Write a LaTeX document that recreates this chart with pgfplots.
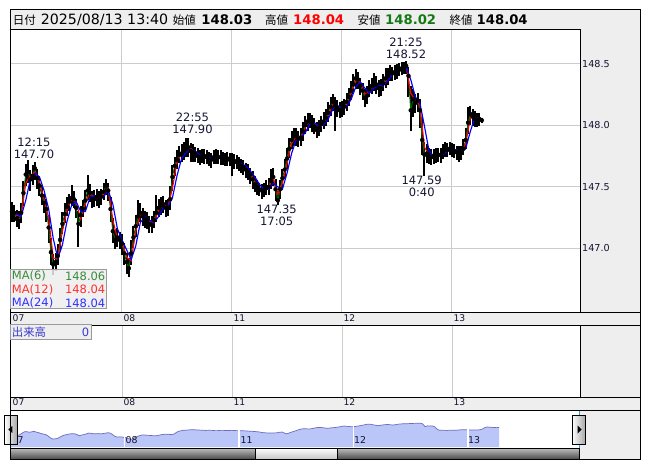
\documentclass[border=0pt]{standalone}
\usepackage{pgfplots}
\pgfplotsset{compat=1.18}
\usepackage{pgfplotstable}
\usepackage{fontspec}
\setmainfont{DejaVu Sans}
\newfontfamily\jp{Noto Sans CJK JP}
\definecolor{panel}{HTML}{EEEEEE}
\definecolor{gridc}{HTML}{CCCCCC}
\definecolor{annot}{HTML}{141432}
\definecolor{ma6}{HTML}{006400}
\definecolor{ma6t}{HTML}{3A8A3A}
\definecolor{ma12t}{HTML}{FF3030}
\definecolor{ma24t}{HTML}{3030FF}
\definecolor{navfill}{HTML}{BAC6F7}
\definecolor{navline}{HTML}{6C6CC0}
\definecolor{cyanl}{HTML}{2AA0D0}
\definecolor{hdrgreen}{HTML}{137A13}
\definecolor{volblue}{HTML}{3A3AD0}
\definecolor{boxline}{HTML}{9A9A9A}

% 30-minute candles: t = hours since 07:00 on 08/07, close, range above, range below
\pgfplotstableread{
t c ep em
0.0 147.30 0.075 0.085
0.5 147.29 0.065 0.075
1.0 147.24 0.075 0.065
1.5 147.22 0.085 0.065
2.0 147.29 0.075 0.085
2.5 147.45 0.095 0.105
3.0 147.60 0.085 0.095
3.5 147.62 0.095 0.085
4.0 147.56 0.075 0.095
4.5 147.59 0.085 0.075
5.0 147.65 0.055 0.095
5.5 147.57 0.075 0.085
6.0 147.51 0.075 0.085
6.5 147.43 0.085 0.075
7.0 147.37 0.075 0.085
7.5 147.32 0.085 0.105
8.0 147.17 0.105 0.125
8.5 146.97 0.115 0.105
9.0 146.87 0.085 0.085
9.5 146.89 0.075 0.075
10.0 146.94 0.095 0.075
10.5 147.07 0.095 0.085
11.0 147.20 0.095 0.085
11.5 147.28 0.085 0.075
12.0 147.34 0.075 0.075
12.5 147.38 0.065 0.075
13.0 147.41 0.105 0.065
13.5 147.40 0.065 0.075
14.0 147.33 0.075 0.085
14.5 147.20 0.105 0.185
15.0 147.27 0.075 0.095
15.5 147.32 0.075 0.065
16.0 147.39 0.085 0.075
16.5 147.47 0.125 0.075
17.0 147.45 0.075 0.075
17.5 147.40 0.065 0.075
18.0 147.40 0.075 0.065
18.5 147.42 0.065 0.075
19.0 147.39 0.075 0.065
19.5 147.42 0.065 0.065
20.0 147.46 0.075 0.065
20.5 147.51 0.055 0.075
21.0 147.47 0.065 0.085
21.5 147.32 0.095 0.105
22.0 147.14 0.105 0.095
22.5 147.07 0.075 0.075
23.0 147.09 0.075 0.075
23.5 147.07 0.065 0.075
24.0 147.04 0.075 0.095
24.5 146.96 0.085 0.095
25.0 146.89 0.075 0.095
25.5 146.84 0.085 0.075
26.0 146.96 0.105 0.095
26.5 147.09 0.095 0.085
27.0 147.18 0.095 0.085
27.5 147.26 0.135 0.075
28.0 147.29 0.075 0.075
28.5 147.26 0.065 0.075
29.0 147.24 0.065 0.075
29.5 147.23 0.065 0.075
30.0 147.20 0.065 0.075
30.5 147.19 0.075 0.065
31.0 147.23 0.075 0.065
31.5 147.29 0.145 0.075
32.0 147.33 0.075 0.075
32.5 147.35 0.065 0.075
33.0 147.36 0.065 0.075
33.5 147.33 0.065 0.075
34.0 147.33 0.075 0.065
34.5 147.40 0.105 0.085
35.0 147.58 0.095 0.115
35.5 147.67 0.075 0.085
36.0 147.72 0.075 0.075
36.5 147.76 0.075 0.065
37.0 147.77 0.075 0.065
37.5 147.79 0.075 0.075
38.0 147.81 0.085 0.065
38.5 147.82 0.08 0.075
39.0 147.79 0.065 0.085
39.5 147.78 0.065 0.075
40.0 147.77 0.055 0.065
40.5 147.75 0.065 0.055
41.0 147.74 0.055 0.065
41.5 147.75 0.055 0.055
42.0 147.75 0.055 0.065
42.5 147.74 0.055 0.055
43.0 147.72 0.065 0.055
43.5 147.72 0.055 0.065
44.0 147.74 0.055 0.055
44.5 147.75 0.055 0.065
45.0 147.74 0.055 0.055
45.5 147.74 0.055 0.065
46.0 147.73 0.055 0.055
46.5 147.72 0.055 0.055
47.0 147.73 0.055 0.065
47.5 147.72 0.055 0.055
48.0 147.72 0.055 0.135
48.5 147.71 0.055 0.065
49.0 147.70 0.055 0.055
49.5 147.69 0.055 0.065
50.0 147.67 0.055 0.055
50.5 147.66 0.055 0.065
51.0 147.64 0.055 0.065
51.5 147.62 0.065 0.065
52.0 147.60 0.055 0.075
52.5 147.56 0.065 0.075
53.0 147.52 0.065 0.065
53.5 147.50 0.055 0.065
54.0 147.48 0.055 0.055
54.5 147.47 0.055 0.065
55.0 147.47 0.065 0.055
55.5 147.49 0.065 0.055
56.0 147.50 0.075 0.065
56.5 147.55 0.095 0.065
57.0 147.58 0.075 0.075
57.5 147.48 0.085 0.095
58.0 147.39 0.075 0.04
58.5 147.48 0.075 0.075
59.0 147.57 0.075 0.085
59.5 147.64 0.085 0.075
60.0 147.73 0.085 0.085
60.5 147.81 0.085 0.075
61.0 147.88 0.075 0.075
61.5 147.91 0.065 0.075
62.0 147.91 0.065 0.075
62.5 147.89 0.065 0.065
63.0 147.90 0.075 0.065
63.5 147.95 0.075 0.075
64.0 148.00 0.075 0.075
64.5 148.03 0.065 0.075
65.0 148.04 0.055 0.065
65.5 148.02 0.065 0.075
66.0 147.99 0.065 0.065
66.5 147.96 0.065 0.065
67.0 147.98 0.065 0.065
67.5 148.01 0.065 0.065
68.0 148.03 0.075 0.065
68.5 148.06 0.075 0.065
69.0 148.10 0.085 0.075
69.5 148.15 0.075 0.075
70.0 148.19 0.065 0.075
70.5 148.16 0.065 0.21
71.0 148.14 0.065 0.075
71.5 148.12 0.065 0.065
72.0 148.13 0.065 0.065
72.5 148.15 0.065 0.065
73.0 148.19 0.075 0.075
73.5 148.23 0.075 0.075
74.0 148.28 0.075 0.075
74.5 148.33 0.085 0.075
75.0 148.38 0.075 0.085
75.5 148.37 0.065 0.075
76.0 148.32 0.065 0.075
76.5 148.28 0.065 0.075
77.0 148.22 0.075 0.075
77.5 148.24 0.075 0.065
78.0 148.29 0.075 0.065
78.5 148.32 0.065 0.065
79.0 148.34 0.085 0.065
79.5 148.33 0.065 0.075
80.0 148.30 0.065 0.075
80.5 148.30 0.075 0.065
81.0 148.34 0.075 0.065
81.5 148.38 0.085 0.075
82.0 148.40 0.065 0.075
82.5 148.42 0.065 0.065
83.0 148.42 0.055 0.065
83.5 148.43 0.055 0.065
84.0 148.44 0.055 0.065
84.5 148.45 0.055 0.055
85.0 148.46 0.055 0.055
85.5 148.47 0.045 0.055
86.0 148.48 0.04 0.065
86.5 148.40 0.075 0.175
87.0 148.12 0.195 0.165
87.5 148.21 0.085 0.145
88.0 148.18 0.075 0.085
88.5 148.20 0.065 0.095
89.0 148.12 0.095 0.145
89.5 147.88 0.175 0.125
90.0 147.76 0.105 0.17
90.5 147.77 0.075 0.075
91.0 147.75 0.065 0.065
91.5 147.74 0.065 0.065
92.0 147.75 0.055 0.065
92.5 147.75 0.065 0.055
93.0 147.76 0.055 0.055
93.5 147.76 0.055 0.065
94.0 147.78 0.065 0.055
94.5 147.80 0.065 0.055
95.0 147.80 0.055 0.055
95.5 147.81 0.055 0.055
96.0 147.80 0.055 0.055
96.5 147.79 0.055 0.055
97.0 147.78 0.055 0.065
97.5 147.78 0.055 0.075
98.0 147.78 0.055 0.065
98.5 147.81 0.075 0.055
99.0 147.88 0.095 0.075
99.5 148.02 0.13 0.095
100.0 148.09 0.065 0.085
100.5 148.07 0.065 0.075
101.0 148.05 0.065 0.065
101.5 148.04 0.055 0.055
102.0 148.05 0.045 0.055
102.5 148.04 0.02 0.02
}\candles

% moving averages MA(12), MA(24), hourly
\pgfplotstableread{
t m12 m24
0.0 147.30 147.30
1.0 147.27 147.28
2.0 147.26 147.26
3.0 147.53 147.39
4.0 147.59 147.56
5.0 147.62 147.61
6.0 147.54 147.58
7.0 147.40 147.47
8.0 147.25 147.32
9.0 146.92 147.08
10.0 146.92 146.92
11.0 147.14 147.03
12.0 147.31 147.22
13.0 147.40 147.35
14.0 147.37 147.38
15.0 147.24 147.30
16.0 147.36 147.30
17.0 147.46 147.41
18.0 147.40 147.43
19.0 147.41 147.40
20.0 147.44 147.42
21.0 147.49 147.47
22.0 147.23 147.36
23.0 147.08 147.16
24.0 147.06 147.07
25.0 146.93 146.99
26.0 146.90 146.91
27.0 147.14 147.02
28.0 147.28 147.21
29.0 147.25 147.26
30.0 147.22 147.23
31.0 147.21 147.21
32.0 147.31 147.26
33.0 147.36 147.33
34.0 147.33 147.34
35.0 147.49 147.41
36.0 147.70 147.59
37.0 147.77 147.73
38.0 147.80 147.78
39.0 147.81 147.80
40.0 147.78 147.79
41.0 147.75 147.76
42.0 147.75 147.75
43.0 147.73 147.74
44.0 147.73 147.73
45.0 147.75 147.74
46.0 147.74 147.74
47.0 147.73 147.73
48.0 147.72 147.72
49.0 147.71 147.71
50.0 147.68 147.69
51.0 147.65 147.67
52.0 147.61 147.63
53.0 147.54 147.58
54.0 147.49 147.52
55.0 147.47 147.48
56.0 147.50 147.48
57.0 147.57 147.53
58.0 147.44 147.50
59.0 147.53 147.48
60.0 147.69 147.61
61.0 147.85 147.77
62.0 147.91 147.88
63.0 147.90 147.90
64.0 147.98 147.94
65.0 148.04 148.01
66.0 148.01 148.02
67.0 147.97 147.99
68.0 148.02 148.00
69.0 148.08 148.05
70.0 148.17 148.13
71.0 148.15 148.16
72.0 148.13 148.14
73.0 148.17 148.15
74.0 148.26 148.21
75.0 148.36 148.31
76.0 148.35 148.35
77.0 148.25 148.30
78.0 148.27 148.26
79.0 148.33 148.30
80.0 148.32 148.32
81.0 148.32 148.32
82.0 148.39 148.36
83.0 148.42 148.41
84.0 148.44 148.43
85.0 148.46 148.45
86.0 148.48 148.47
87.0 148.26 148.37
88.0 148.20 148.23
89.0 148.16 148.18
90.0 147.82 147.99
91.0 147.76 147.79
92.0 147.75 147.75
93.0 147.76 147.75
94.0 147.77 147.76
95.0 147.80 147.79
96.0 147.81 147.80
97.0 147.79 147.80
98.0 147.78 147.78
99.0 147.85 147.81
100.0 148.06 147.95
101.0 148.06 148.06
102.0 148.05 148.05
102.5 148.04 148.04
}\mavg

\begin{document}
\begin{tikzpicture}
% ---------- backgrounds ----------
\begin{scope}[x=1pt,y=-1pt]
\useasboundingbox (0,0) rectangle (653,470);
\fill[white] (0,0) rectangle (653,470);
\fill[panel] (10.5,9.5) rectangle (640,29.5);
\fill[panel] (580,29.5) rectangle (640,459);
\fill[panel] (10.5,312.5) rectangle (640,325);
\fill[panel] (10.5,397) rectangle (640,410);
% volume grid
\foreach \gx in {122,232,342,452} \draw[gridc, line width=1pt] (\gx,325) -- (\gx,397);
\end{scope}

% ---------- main price panel ----------
\begin{axis}[
  at={(11pt,-29pt)}, anchor=north west,
  width=569pt, height=283pt, scale only axis,
  xmin=-0.218, xmax=123.93, ymin=146.485, ymax=148.78,
  axis line style={draw=none}, major tick length=0pt,
  xtick={24,48,72,96}, xticklabels={},
  ytick={147,147.5,148,148.5},
  yticklabel pos=right,
  yticklabel style={anchor=west, inner sep=0pt, xshift=2pt,
    font=\fontsize{9.6}{11}\selectfont, text=annot,
    /pgf/number format/.cd, fixed, fixed zerofill, precision=1, assume math mode=true},
  grid=major, major grid style={draw=gridc, line width=1pt},
]
\addplot[only marks, mark=none, forget plot,
  error bars/.cd, y dir=both, y explicit, error mark=none,
  error bar style={line width=2.0pt, black}]
  table[x=t, y=c, y error plus=ep, y error minus=em] {\candles};
\addplot[ma6, line width=1pt, mark=none] table[x=t, y=c] {\candles};
\addplot[red, line width=1.15pt, mark=none] table[x=t, y=m12] {\mavg};
\addplot[blue, line width=1.15pt, mark=none] table[x=t, y=m24] {\mavg};
\end{axis}

% ---------- navigator ----------
\begin{axis}[
  at={(10pt,-411pt)}, anchor=north west,
  width=569pt, height=36pt, scale only axis,
  xmin=0, xmax=119.26, ymin=146.06, ymax=149.71,
  hide axis,
]
\addplot[fill=navfill, draw=none, mark=none] table[x=t, y=c] {\candles} \closedcycle;
\addplot[navline, line width=0.7pt, mark=none] table[x=t, y=c] {\candles};
\end{axis}

% ---------- frames, labels, texts ----------
\begin{scope}[x=1pt,y=-1pt]
% navigator separators and labels
\foreach \sx in {124.5,239,353.5,468} \draw[white, line width=1.2pt] (\sx,411) -- (\sx,447);
\foreach \lx/\lt in {11.5/07,125.5/08,240.5/11,354/12,468/13}
  \node[anchor=west, inner sep=0pt, font=\fontsize{9.4}{10}\selectfont, text=annot] at (\lx,440.5) {\lt};
\draw[cyanl, line width=0.8pt] (10.5,410) -- (10.5,448);
\draw[cyanl, line width=0.8pt] (579,410) -- (579,448);
% scrollbar
\shade[top color=black!25, bottom color=black!70] (10.5,448) rectangle (579,459);
\shade[top color=white, bottom color=black!22] (255,448) rectangle (337,459);
\draw[black, line width=0.8pt] (10.5,448) rectangle (579,459);
\draw[black, line width=0.8pt] (255,448) -- (255,459) (337,448) -- (337,459);
% buttons
\shade[left color=white, right color=black!35, draw=black, line width=0.8pt] (4.5,415) rectangle (17.5,444);
\fill[black] (8.3,429.5) -- (12.3,426) -- (12.3,433) -- cycle;
\shade[left color=white, right color=black!35, draw=black, line width=0.8pt] (572,415) rectangle (585.5,444);
\fill[black] (581.7,429.5) -- (577.5,425.5) -- (577.5,433.5) -- cycle;

% outer frame and panel lines
\draw[black, line width=1pt] (10.5,9.5) rectangle (640,459);
\draw[black, line width=1pt] (10.5,29.5) -- (580,29.5);
\draw[black, line width=1pt] (580,29.5) -- (580,312.5);
\draw[black, line width=1pt] (10.5,312.5) -- (640,312.5);
\draw[black, line width=1pt] (10.5,325) -- (640,325);
\draw[black, line width=1pt] (580,325) -- (580,397);
\draw[black, line width=1pt] (10.5,397) -- (640,397);
\draw[black, line width=1pt] (10.5,410) -- (640,410);
\draw[black, line width=1pt] (579,448) -- (579,459);

% date strips
\foreach \lx/\lt in {12.5/07,123.3/08,233.3/11,343.3/12,453.3/13} {
  \node[anchor=west, inner sep=0pt, font=\fontsize{9.2}{10}\selectfont, text=annot] at (\lx,318.3) {\lt};
  \node[anchor=west, inner sep=0pt, font=\fontsize{9.2}{10}\selectfont, text=annot] at (\lx,402.5) {\lt};
}

% header
\node[anchor=base west, inner sep=0pt, font=\jp\fontsize{11.5}{12}\selectfont] at (12.7,24.5) {日付};
\node[anchor=base west, inner sep=0pt, font=\fontsize{14.2}{15}\selectfont] at (40.7,24.3) {2025/08/13 13:40};
\node[anchor=base west, inner sep=0pt, font=\jp\fontsize{11.5}{12}\selectfont] at (172.7,24.5) {始値};
\node[anchor=base west, inner sep=0pt, font=\bfseries\fontsize{13.2}{15}\selectfont] at (201.2,24.3) {148.03};
\node[anchor=base west, inner sep=0pt, font=\jp\fontsize{11.5}{12}\selectfont] at (265,24.5) {高値};
\node[anchor=base west, inner sep=0pt, font=\bfseries\fontsize{13.2}{15}\selectfont, text=red] at (293,24.3) {148.04};
\node[anchor=base west, inner sep=0pt, font=\jp\fontsize{11.5}{12}\selectfont] at (357.3,24.5) {安値};
\node[anchor=base west, inner sep=0pt, font=\bfseries\fontsize{13.2}{15}\selectfont, text=hdrgreen] at (385,24.3) {148.02};
\node[anchor=base west, inner sep=0pt, font=\jp\fontsize{11.5}{12}\selectfont] at (449.3,24.5) {終値};
\node[anchor=base west, inner sep=0pt, font=\bfseries\fontsize{13.2}{15}\selectfont] at (476.5,24.3) {148.04};

% annotations of highs and lows
\tikzset{ann/.style={align=center, inner sep=0pt, font=\fontsize{11.5}{12.5}\selectfont, text=annot}}
\node[ann] at (34,148.5) {12:15\\147.70};
\node[ann] at (192.5,123.5) {22:55\\147.90};
\node[ann] at (276.7,215.5) {147.35\\17:05};
\node[ann] at (406,48.5) {21:25\\148.52};
\node[ann] at (421.7,186.5) {147.59\\0:40};

% MA legend box
\fill[panel, fill opacity=0.85] (10.5,269) rectangle (106.5,308);
\draw[boxline, line width=0.8pt] (10.5,269) rectangle (106.5,308);
\tikzset{lg/.style={inner sep=0pt, font=\fontsize{11.5}{12}\selectfont}}
\node[lg, anchor=west, text=ma6t] at (11.7,276) {MA(6)};
\node[lg, anchor=east, text=ma6t] at (105.5,276) {148.06};
\node[lg, anchor=west, text=ma12t] at (11.7,289.7) {MA(12)};
\node[lg, anchor=east, text=ma12t] at (105.5,289.7) {148.04};
\node[lg, anchor=west, text=ma24t] at (11.7,303.3) {MA(24)};
\node[lg, anchor=east, text=ma24t] at (105.5,303.3) {148.04};

% volume label box
\fill[panel] (10.5,324.5) rectangle (91,339.5);
\draw[boxline, line width=0.8pt] (10.5,324.5) rectangle (91,339.5);
\node[anchor=west, inner sep=0pt, font=\jp\fontsize{11.4}{12}\selectfont, text=volblue] at (11.7,332) {出来高};
\node[anchor=east, inner sep=0pt, font=\fontsize{11.5}{12}\selectfont, text=volblue] at (89.5,332) {0};
\end{scope}
\end{tikzpicture}
\end{document}
